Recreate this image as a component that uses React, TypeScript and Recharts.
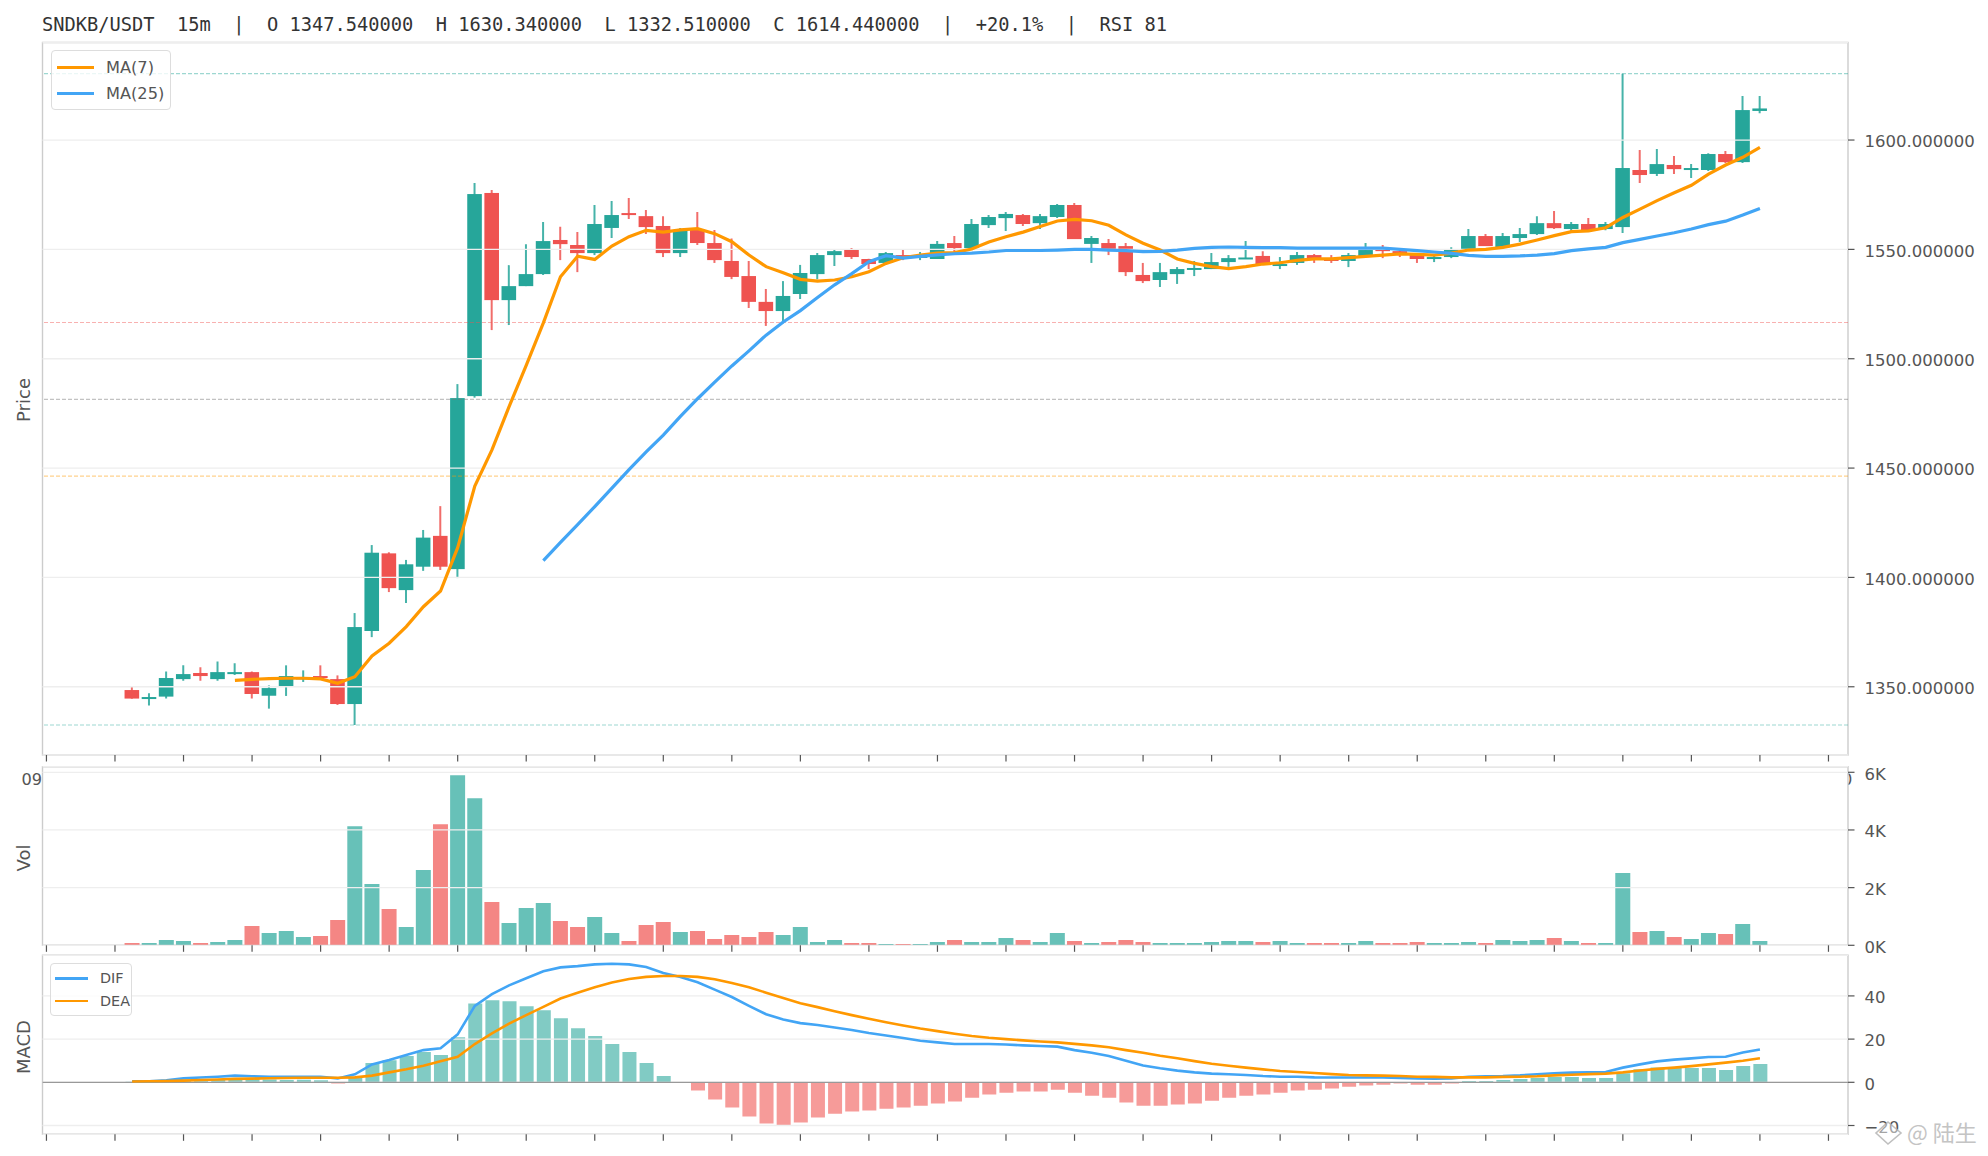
import { ComposedChart, Bar, Line, Cell, XAxis, YAxis, CartesianGrid, ReferenceLine, ReferenceArea, Legend } from 'recharts';

const GREEN = '#26a69a';
const RED = '#ef5350';
const ORANGE = '#ff9800';
const BLUE = '#42a5f5';
const SPINE = '#cccccc';
const GRID = '#eeeeee';
const INK = '#555555';

// first candle sits at slot 5 of the time axis, last one at slot 100
const firstSlot = 5;
const xTicks = [0, 4, 8, 12, 16, 20, 24, 28, 32, 36, 40, 44, 48, 52, 56, 60, 64, 68, 72, 76, 80, 84, 88, 92, 96, 100, 104];
const xDomain = [-0.23, 105.14];

const priceTicks = [1350, 1400, 1450, 1500, 1550, 1600];
const volTicks = [0, 2000, 4000, 6000];
const macdTicks = [-20, 0, 20, 40];

const opens = [1348.5, 1345, 1345.5, 1353.5, 1356.3, 1353.5, 1356.3, 1356.7, 1345.9, 1350, 1353.9, 1354.9, 1353.5, 1342.1, 1375.5, 1411, 1394.2, 1404.9, 1419, 1403.8, 1482.9, 1575.8, 1526.8, 1533.2, 1538.7, 1554.3, 1552, 1548.3, 1559.8, 1566.6, 1565.2, 1560.7, 1548.3, 1559.3, 1552.9, 1544.7, 1537.8, 1526, 1521.8, 1529.6, 1538.7, 1547.4, 1549.9, 1545.6, 1543.8, 1547.4, 1546.6, 1545.6, 1552.9, 1550.6, 1561.1, 1564.3, 1565.7, 1562, 1564.8, 1570.3, 1552.5, 1552.9, 1551.5, 1538.3, 1536, 1538.7, 1541, 1541, 1544.2, 1545.6, 1547, 1542.4, 1543.8, 1547.4, 1546, 1544.7, 1547, 1550.2, 1549.2, 1547.4, 1545.6, 1546.5, 1550, 1556.1, 1551, 1555.2, 1557, 1562, 1559.3, 1561.6, 1559.3, 1560.2, 1586.3, 1584.5, 1588.6, 1586.3, 1586.3, 1593.6, 1589.9, 1613.3];
const highs = [1350.3, 1347, 1357, 1359.8, 1358.9, 1361.6, 1360.7, 1357, 1350.6, 1359.8, 1357.5, 1359.8, 1355.2, 1383.7, 1414.8, 1411.5, 1408, 1421.7, 1432.6, 1488.4, 1580.3, 1577.1, 1542.8, 1552.4, 1562.5, 1560.4, 1557.9, 1570.3, 1572.1, 1573.5, 1568, 1565.2, 1559.8, 1567.1, 1558.9, 1555, 1544.7, 1531.9, 1535.5, 1542.9, 1548.3, 1550.2, 1550.6, 1545.7, 1548.8, 1550.2, 1548.8, 1553.8, 1556.1, 1563.9, 1565.7, 1567.1, 1566.2, 1566.2, 1570.7, 1571.2, 1556.1, 1554.7, 1552.9, 1543.8, 1543.8, 1541.9, 1544.7, 1548.3, 1547.4, 1553.8, 1549.2, 1546.5, 1548.8, 1547.9, 1547.4, 1548.3, 1552.9, 1552, 1549.7, 1547.9, 1547.4, 1551, 1559.3, 1557, 1557.5, 1559.8, 1565.2, 1567.5, 1562.5, 1564.3, 1562.5, 1630.34, 1595.4, 1595.9, 1592.7, 1589, 1594, 1595, 1620.1, 1620.1];
const lows = [1344.5, 1341.4, 1344.6, 1352.8, 1352.8, 1352.8, 1355.4, 1344.6, 1340, 1345.8, 1352.2, 1353.1, 1341.7, 1332.51, 1372.7, 1393.3, 1388.3, 1403, 1403.4, 1399.7, 1482.2, 1513.1, 1515.4, 1533.2, 1538.3, 1545.1, 1539.6, 1547.4, 1555.2, 1563.9, 1557, 1546.5, 1546.5, 1552, 1543.8, 1536.4, 1523.2, 1515, 1516.2, 1527.3, 1536.3, 1542.4, 1545.6, 1541, 1543.8, 1545.1, 1545.1, 1545.6, 1547.9, 1549.7, 1559.8, 1558.4, 1560.7, 1559.3, 1564.3, 1554.7, 1543.8, 1547.4, 1537.8, 1534.6, 1532.8, 1534.2, 1537.8, 1541, 1542, 1545.6, 1543.3, 1541, 1542.9, 1543.8, 1543.8, 1541.9, 1547, 1546, 1546.5, 1543.8, 1544.2, 1546, 1549.7, 1551.5, 1550.5, 1553.4, 1556.6, 1559.3, 1557.9, 1558.5, 1558.8, 1557.5, 1580.3, 1583.5, 1584.5, 1582.6, 1585.8, 1589.5, 1589.5, 1612.3];
const closes = [1344.6, 1345.3, 1354, 1355.8, 1354.9, 1356.7, 1356.7, 1346.7, 1349.4, 1354.9, 1354.3, 1354, 1342.1, 1377.3, 1411.3, 1395.1, 1406, 1418.2, 1404.9, 1482, 1575.3, 1526.8, 1533.2, 1538.7, 1553.8, 1552.4, 1548.3, 1561.6, 1565.7, 1566.2, 1560.2, 1548.3, 1558.9, 1552.9, 1545.1, 1537.4, 1526, 1521.8, 1528.7, 1539.2, 1547.4, 1549.2, 1546.5, 1543.3, 1548.3, 1546.5, 1547, 1552.5, 1550.6, 1561.6, 1564.8, 1566.2, 1561.6, 1565.2, 1570.3, 1554.7, 1555.2, 1550.2, 1539.6, 1535.5, 1539.6, 1541, 1541.5, 1544.2, 1546, 1546.3, 1543.3, 1543.3, 1547.4, 1545.6, 1544.7, 1547.4, 1549.7, 1549.2, 1547.4, 1545.6, 1546.5, 1549.7, 1556.1, 1551.5, 1556.1, 1557, 1562, 1559.7, 1561.6, 1558.8, 1561.6, 1587.2, 1584, 1589, 1586.7, 1587.2, 1593.6, 1589.9, 1613.7, 1614.44];

const ma7 = [null, null, null, null, null, null, 1352.9, 1353.4, 1353.7, 1353.9, 1353.9, 1353.6, 1351.6, 1354.6, 1364.1, 1369.9, 1377.5, 1386.6, 1393.8, 1413.6, 1441.8, 1458.3, 1478.1, 1497, 1516.4, 1537.5, 1546.9, 1545.4, 1551.5, 1555.8, 1558.7, 1557.9, 1558.9, 1559.5, 1557.2, 1553.5, 1547.4, 1542.1, 1539.3, 1536.3, 1535.5, 1536, 1537.5, 1539.8, 1543.6, 1546.2, 1547.4, 1548.3, 1548.5, 1550.2, 1553.4, 1555.8, 1557.9, 1560.5, 1563, 1563.7, 1563.1, 1561, 1556.6, 1552.8, 1549.7, 1545.6, 1543.6, 1542.1, 1541.2, 1542.1, 1543.3, 1543.9, 1545, 1545.7, 1545.7, 1546.2, 1546.8, 1547.4, 1547.9, 1547.7, 1547.4, 1548.3, 1549.7, 1550, 1550.9, 1552.4, 1554.3, 1556.3, 1558.1, 1558.5, 1559.9, 1564.6, 1568.4, 1572.3, 1575.9, 1579.3, 1584.4, 1588.6, 1592.1, 1596.6];
const ma25 = [null, null, null, null, null, null, null, null, null, null, null, null, null, null, null, null, null, null, null, null, null, null, null, null, 1407.7, 1416, 1424.1, 1432.4, 1440.8, 1449.3, 1457.4, 1465.1, 1473.6, 1481.7, 1489.3, 1496.7, 1503.6, 1510.8, 1516.8, 1522, 1528, 1533.8, 1538.9, 1544.4, 1547.1, 1546, 1546.8, 1547.5, 1548, 1548.3, 1548.8, 1549.5, 1549.5, 1549.5, 1549.7, 1550, 1550, 1549.7, 1549.4, 1549, 1549.1, 1549.7, 1550.5, 1550.9, 1551.1, 1550.9, 1550.8, 1550.8, 1550.6, 1550.6, 1550.6, 1550.6, 1550.6, 1550.6, 1550, 1549.4, 1548.8, 1548.2, 1547.3, 1546.8, 1546.8, 1547, 1547.4, 1548.1, 1549.4, 1550.2, 1550.9, 1553.1, 1554.6, 1556.1, 1557.6, 1559.3, 1561.3, 1562.9, 1565.7, 1568.7];

const volumes = [80, 80, 185, 150, 80, 115, 185, 670, 427, 496, 289, 323, 877, 4131, 2123, 1258, 635, 2608, 4200, 5897, 5100, 1500, 773, 1292, 1466, 842, 635, 981, 427, 150, 704, 808, 462, 496, 219, 358, 289, 462, 358, 635, 115, 185, 80, 80, 46, 46, 46, 115, 185, 115, 115, 254, 185, 115, 427, 150, 80, 115, 185, 115, 80, 80, 80, 115, 150, 150, 115, 150, 80, 80, 80, 80, 150, 80, 80, 115, 80, 80, 115, 80, 185, 150, 185, 254, 150, 80, 80, 2504, 462, 496, 289, 219, 427, 392, 739, 150];

const macdHist = [0.3, 0.3, 0.7, 1, 1.3, 1.5, 1.6, 1.5, 1.3, 1.1, 1.2, 1, -0.6, 2.6, 8.9, 10.2, 12.2, 14, 12.6, 20.9, 36.5, 38, 37.5, 35.2, 33.4, 29.7, 25, 21.4, 17.7, 14, 8.9, 2.9, -0.1, -3.8, -8, -11.7, -15.8, -19.1, -19.8, -18.6, -16.3, -14.5, -13.5, -13.1, -12.2, -11.7, -10.8, -9.8, -8.9, -7.1, -5.7, -4.8, -4.3, -4.3, -3.4, -4.8, -6.2, -7.1, -9.4, -10.8, -10.8, -10.3, -9.8, -8.5, -7.1, -6.2, -5.7, -4.8, -3.8, -3.4, -2.9, -2, -1.5, -1.1, -0.6, -1.1, -1.1, -0.6, 0.6, 0.6, 1.1, 1.5, 2, 2.5, 2.5, 2, 2, 4.2, 6, 6.9, 6.9, 6.6, 6.6, 5.7, 7.5, 8.5];
const dif = [0.5, 0.5, 0.9, 1.8, 2.2, 2.6, 3.1, 2.8, 2.5, 2.5, 2.6, 2.6, 1.8, 3.7, 8.3, 10.3, 12.6, 14.9, 15.8, 22.2, 35.4, 40.8, 44.9, 48.2, 51.4, 53.2, 53.8, 54.6, 54.9, 54.6, 53.4, 50.6, 48.8, 46.3, 42.9, 39.5, 35.4, 31.5, 29.1, 27.4, 26.5, 25.4, 24.2, 22.8, 21.7, 20.5, 19.2, 18.5, 17.7, 17.7, 17.7, 17.5, 17.1, 16.8, 16.5, 14.9, 13.7, 12.2, 10, 7.8, 6.5, 5.4, 4.6, 4, 3.7, 3.4, 2.9, 2.6, 2.6, 2.3, 2.2, 2.2, 2.2, 2.2, 2, 1.8, 1.7, 1.8, 2.6, 2.8, 2.9, 3.2, 3.7, 4.2, 4.5, 4.6, 4.8, 6.8, 8.3, 9.7, 10.5, 11.1, 11.7, 11.8, 13.8, 15.2];
const dea = [0.4, 0.5, 0.6, 0.8, 1.1, 1.3, 1.6, 1.7, 1.9, 2, 2.1, 2.1, 2.1, 2.3, 3.1, 4.6, 6, 7.7, 9.7, 11.8, 17.7, 22.6, 27.2, 31.1, 34.9, 38.8, 41.5, 44, 46.2, 47.8, 48.8, 49.2, 49.2, 48.8, 47.7, 46, 44, 41.5, 39, 36.6, 34.8, 32.9, 31.1, 29.4, 27.8, 26.3, 24.9, 23.7, 22.5, 21.4, 20.6, 20, 19.4, 18.9, 18.5, 17.8, 17.1, 16.2, 14.9, 13.7, 12.3, 11.1, 9.8, 8.6, 7.7, 6.8, 6, 5.2, 4.8, 4.3, 3.8, 3.4, 3.2, 3.1, 2.9, 2.6, 2.5, 2.3, 2.3, 2.3, 2.5, 2.6, 2.8, 3.2, 3.5, 3.8, 4, 4.6, 5.5, 6.2, 6.8, 7.5, 8.3, 9.1, 10, 11.1];

// range of the whole session and its fib levels
const fibLines = [
    { y: 1630.34, color: GREEN },
    { y: 1516.56, color: RED },
    { y: 1481.43, color: '#777777' },
    { y: 1446.29, color: ORANGE },
    { y: 1332.51, color: GREEN },
];

const rows = opens.map((open, i) => ({
    slot: firstSlot + i,
    open,
    high: highs[i],
    low: lows[i],
    close: closes[i],
    ma7: ma7[i],
    ma25: ma25[i],
    vol: volumes[i],
    hist: macdHist[i],
    dif: dif[i],
    dea: dea[i],
}));

const FONT = '"DejaVu Sans", sans-serif';
const tickStyle = { fontFamily: FONT, fontSize: 16.5, fill: INK, dy: 1.5 };
// grid runs over the bars in this chart, under the lines
const OVER_BARS = 350;

function Candle({ x, y, width, height, payload }: any) {
    const { open, close, high, low } = payload;
    const up = close >= open;
    const color = up ? GREEN : RED;
    const perUnit = height / (high - low);
    const top = y + (high - Math.max(open, close)) * perUnit;
    const bodyH = Math.max(Math.abs(close - open) * perUnit, 2);
    const mid = x + width / 2;
    return (
        <g>
            <line x1={mid} x2={mid} y1={y} y2={y + height} stroke={color} strokeWidth={2} strokeOpacity={0.85} />
            <rect x={x} y={top} width={width} height={bodyH} fill={color} />
        </g>
    );
}

function legendBox(names: string[], fontSize: number, lineW: number, lineH: number, rowH: number, padLeft: number) {
    return (props: any) => (
        <div style={{ boxSizing: 'border-box', padding: '3px 0', background: 'rgba(255,255,255,0.8)', border: '1.5px solid #dddddd', borderRadius: 4, fontFamily: FONT, fontSize, color: INK }}>
            {names.map((name) => {
                const entry = props.payload.find((p: any) => p.value === name);
                return (
                    <div key={name} style={{ display: 'flex', alignItems: 'center', height: rowH, paddingLeft: padLeft }}>
                        <span style={{ display: 'inline-block', width: lineW, height: lineH, background: entry?.color, marginRight: 12 }} />
                        {name}
                    </div>
                );
            })}
        </div>
    );
}

function Panel({ top, bottom, yDomain, yTicks, yFormat, children }: any) {
    return (
        <div style={{ position: 'absolute', left: 0, top: 0 }}>
            <ComposedChart width={1988} height={bottom + 20} data={rows} margin={{ top, right: 0, bottom: 0, left: 42.5 }}>
                <XAxis type="number" dataKey="slot" domain={xDomain} ticks={xTicks} allowDataOverflow height={20} tickFormatter={() => ''}
                    axisLine={false} tickSize={6.5} tickLine={{ stroke: INK, strokeWidth: 1.2 }} />
                <YAxis orientation="right" width={140} domain={yDomain} ticks={yTicks} allowDataOverflow tickFormatter={yFormat} tick={tickStyle}
                    axisLine={false} tickSize={6.5} tickMargin={10} tickLine={{ stroke: INK, strokeWidth: 1.2 }} interval={0} />
                {children}
                <ReferenceArea x1={xDomain[0]} x2={xDomain[1]} y1={yDomain[0]} y2={yDomain[1]} fill="none" stroke={SPINE} strokeWidth={1.4} ifOverflow="visible" />
            </ComposedChart>
        </div>
    );
}

export default function App() {
    return (
        <div style={{ position: 'absolute', left: 0, top: 0, width: 1988, height: 1156, background: '#fff', overflow: 'hidden' }}>
            <Panel top={42.5} bottom={755} yDomain={[1318.8, 1644.6]} yTicks={priceTicks} yFormat={(v: number) => v.toFixed(6)}>
                <Bar dataKey={(d: any) => [d.low, d.high]} barSize={14.6} shape={Candle} isAnimationActive={false} legendType="none" />
                <CartesianGrid vertical={false} stroke={GRID} strokeWidth={1.3} zIndex={OVER_BARS} />
                {fibLines.map((f) => (
                    <ReferenceLine key={f.y} y={f.y} stroke={f.color} strokeOpacity={0.45} strokeWidth={1.2} strokeDasharray="4 2" zIndex={OVER_BARS} />
                ))}
                <Line dataKey="ma7" name="MA(7)" stroke={ORANGE} strokeWidth={3.2} dot={false} isAnimationActive={false} />
                <Line dataKey="ma25" name="MA(25)" stroke={BLUE} strokeWidth={3.2} dot={false} isAnimationActive={false} />
                <Legend layout="horizontal" verticalAlign="middle" content={legendBox(['MA(7)', 'MA(25)'], 16.2, 37, 3, 26, 5)} wrapperStyle={{ left: 51, top: 50, width: 120 }} />
            </Panel>

            <Panel top={766.7} bottom={945.3} yDomain={[0, 6194]} yTicks={volTicks} yFormat={(v: number) => `${v / 1000}K`}>
                <Bar dataKey="vol" barSize={15} fillOpacity={0.7} isAnimationActive={false} legendType="none">
                    {rows.map((r) => (
                        <Cell key={r.slot} fill={r.close >= r.open ? GREEN : RED} />
                    ))}
                </Bar>
                <CartesianGrid vertical={false} stroke={GRID} strokeWidth={1.3} zIndex={OVER_BARS} />
            </Panel>

            <Panel top={955.3} bottom={1134.3} yDomain={[-24.07, 58.8]} yTicks={macdTicks} yFormat={(v: number) => String(v).replace('-', '\u2212')}>
                <Bar dataKey="hist" barSize={14} fillOpacity={0.58} isAnimationActive={false} legendType="none">
                    {rows.map((r) => (
                        <Cell key={r.slot} fill={r.hist >= 0 ? GREEN : RED} />
                    ))}
                </Bar>
                <CartesianGrid vertical={false} stroke={GRID} strokeWidth={1.3} zIndex={OVER_BARS} />
                <ReferenceLine y={0} stroke="#999999" strokeWidth={1.3} zIndex={OVER_BARS} />
                <Line dataKey="dif" name="DIF" stroke={BLUE} strokeWidth={2.6} dot={false} isAnimationActive={false} />
                <Line dataKey="dea" name="DEA" stroke={ORANGE} strokeWidth={2.6} dot={false} isAnimationActive={false} />
                <Legend layout="horizontal" verticalAlign="middle" content={legendBox(['DIF', 'DEA'], 14.4, 33, 2.5, 22.5, 4)} wrapperStyle={{ left: 50, top: 963, width: 82 }} />
            </Panel>

            <svg width={1988} height={1156} style={{ position: 'absolute', left: 0, top: 0, pointerEvents: 'none' }}>
                <defs>
                    <clipPath id="sliver">
                        <rect x={1848.6} y={765} width={5} height={28} />
                    </clipPath>
                </defs>
                <text x={42} y={31} fontFamily='"DejaVu Sans Mono", monospace' fontSize={18.7} fill="#333333" style={{ whiteSpace: 'pre' }}>
                    SNDKB/USDT  15m  |  O 1347.540000  H 1630.340000  L 1332.510000  C 1614.440000  |  +20.1%  |  RSI 81
                </text>
                <g fontFamily={FONT} fontSize={18} fill={INK} textAnchor="middle">
                    <text transform="translate(30 400) rotate(-90)">Price</text>
                    <text transform="translate(30 858) rotate(-90)">Vol</text>
                    <text transform="translate(30 1047) rotate(-90)">MACD</text>
                </g>
                {/* tick labels of the top panel peeking out beside the volume panel */}
                <text x={42} y={785} fontFamily={FONT} fontSize={16.2} fill={INK} textAnchor="end">09</text>
                <text x={1842} y={785} fontFamily={FONT} fontSize={16.2} fill={INK} clipPath="url(#sliver)">0</text>
                {/* watermark */}
                <path d="M1888 1122 L1901 1133 L1888 1144 L1876 1133 Z" fill="#ffffff" fillOpacity={0.55} stroke="#b5b5b5" strokeWidth={1.6} opacity={0.85} />
                <text x={1907} y={1141} fontFamily='"Noto Sans CJK SC", sans-serif' fontSize={22} fill="#c4c4c4">@ 陆生</text>
            </svg>
        </div>
    );
}
